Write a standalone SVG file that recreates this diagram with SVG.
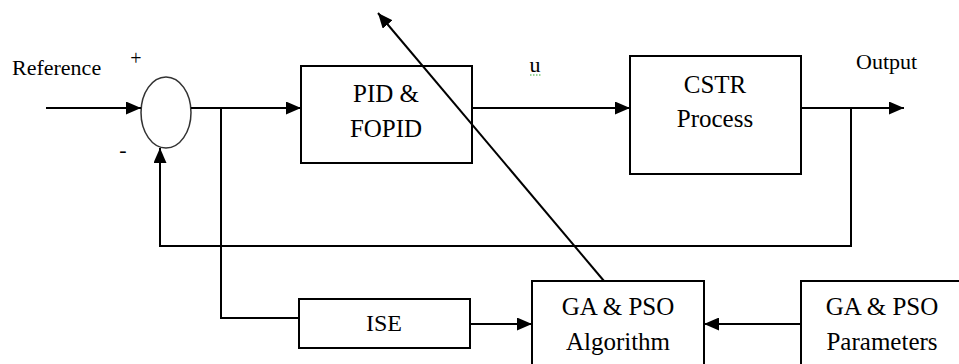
<svg xmlns="http://www.w3.org/2000/svg" width="959" height="364" viewBox="0 0 959 364">
<style>
.box{fill:#fff;stroke:#000;stroke-width:2}
.c{fill:none;stroke:#000;stroke-width:2}
</style>
<defs>
<marker id="ah" viewBox="0 0 15 13" refX="15" refY="6.5" markerWidth="15" markerHeight="13" markerUnits="userSpaceOnUse" orient="auto">
<path d="M0,0 L15,6.5 L0,13 Z" fill="#000"/>
</marker>
</defs>
<rect width="959" height="364" fill="#fff"/>
<g id="sum">
<ellipse cx="166" cy="112.5" rx="25" ry="35.5" fill="#fff" stroke="#333" stroke-width="1.5"/>
<text x="136" y="65" text-anchor="middle" font-family="Liberation Serif, serif" font-size="20">+</text>
<text x="123" y="157" text-anchor="middle" font-family="Liberation Serif, serif" font-size="22">-</text>
</g>
<g id="reference-label"><text x="12" y="75" font-family="Liberation Serif, serif" font-size="22">Reference</text></g>
<g id="output-label"><text x="856" y="69" font-family="Liberation Serif, serif" font-size="22">Output</text></g>
<g id="u-label">
<text x="535" y="72" text-anchor="middle" font-family="Liberation Serif, serif" font-size="22">u</text>
<line x1="530" y1="75" x2="541" y2="75" stroke="#3a3" stroke-width="1.2" stroke-dasharray="1.5,1.5"/>
</g>
<g id="pid" font-family="Liberation Serif, serif" font-size="25" text-anchor="middle">
<rect class="box" x="301" y="66" width="171" height="97"/>
<text x="386" y="102">PID &amp;</text>
<text x="386" y="137">FOPID</text>
</g>
<g id="cstr" font-family="Liberation Serif, serif" font-size="25" text-anchor="middle">
<rect class="box" x="630" y="56" width="171" height="118"/>
<text x="715" y="93">CSTR</text>
<text x="715" y="127">Process</text>
</g>
<g id="ise" font-family="Liberation Serif, serif" font-size="24" text-anchor="middle">
<rect class="box" x="299" y="299" width="171" height="49"/>
<text x="384" y="331">ISE</text>
</g>
<g id="ga-algorithm" font-family="Liberation Serif, serif" font-size="25" text-anchor="middle">
<rect class="box" x="532" y="281" width="172" height="100"/>
<text x="618" y="315">GA &amp; PSO</text>
<text x="618" y="350">Algorithm</text>
</g>
<g id="ga-parameters" font-family="Liberation Serif, serif" font-size="25" text-anchor="middle">
<rect class="box" x="801" y="281" width="180" height="100"/>
<text x="882" y="315">GA &amp; PSO</text>
<text x="882" y="350">Parameters</text>
</g>
<g id="connectors">
<line class="c" x1="46" y1="108" x2="141" y2="108" marker-end="url(#ah)"/>
<line class="c" x1="191" y1="108" x2="301" y2="108" marker-end="url(#ah)"/>
<line class="c" x1="472" y1="108" x2="630" y2="108" marker-end="url(#ah)"/>
<line class="c" x1="801" y1="108" x2="904" y2="108" marker-end="url(#ah)"/>
<polyline class="c" points="851,108 851,246 160,246 160,148" marker-end="url(#ah)"/>
<polyline class="c" points="221,108 221,318 299,318"/>
<line class="c" x1="470" y1="324" x2="532" y2="324" marker-end="url(#ah)"/>
<line class="c" x1="801" y1="324" x2="704" y2="324" marker-end="url(#ah)"/>
<line class="c" x1="604" y1="281" x2="378" y2="13" stroke="#1a1a1a" marker-end="url(#ah)"/>
</g>
</svg>
